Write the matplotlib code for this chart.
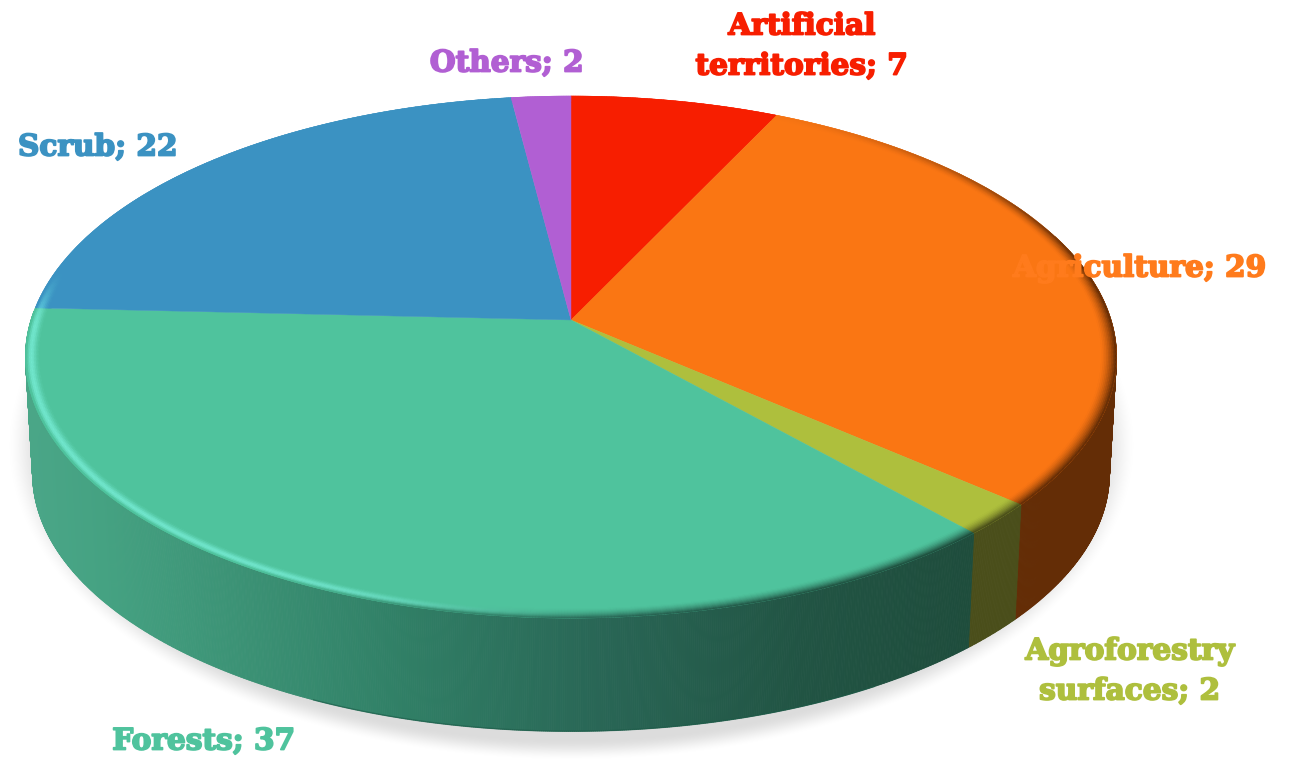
import numpy as np
import matplotlib
matplotlib.use("Agg")
import matplotlib.pyplot as plt
from matplotlib.collections import PolyCollection
from matplotlib.colors import to_rgb
import matplotlib.patheffects as pe

categories = ["Artificial\nterritories", "Agriculture", "Agroforestry\nsurfaces", "Forests", "Scrub", "Others"]
values = [7, 29, 2, 37, 22, 2]
face_colors = ["#F71E00", "#FA7613", "#AEBF3D", "#4FC39D", "#3B92C2", "#B15FD3"]
wall_colors = ["#7A1000", "#642D06", "#4A4E1A", "#1E4D3D", "#1D4D66", "#5A2F6A"]
label_colors = ["#F71E00", "#FF7B1C", "#AEBF3D", "#4FC39D", "#3B92C2", "#B15FD3"]
label_xy = [(802, 46), (1140, 268), (1130, 671), (204, 741), (98, 147), (507, 63)]

CX, CY, A, B, K = 571.0, 320.0, 540.0, 255.8, 0.142
CY2, SC = 437.0, 0.987


def project(theta, r=1.0):
    u, v = r * np.sin(theta), r * np.cos(theta)
    s = 1.0 / (1.0 + K * v)
    return A * u * s, -B * v * s


def top(theta, r=1.0):
    dx, dy = project(theta, r)
    return CX + dx, CY + dy


def bottom(theta):
    dx, dy = project(theta)
    return CX + SC * dx, CY2 + SC * dy


def smooth(a, b, x):
    t = np.clip((x - a) / (b - a), 0, 1)
    return t * t * (3 - 2 * t)


fig = plt.figure(figsize=(12.96, 7.61), dpi=100)
ax = fig.add_axes([0, 0, 1, 1])

# soft ground shadow
yy, xx = np.mgrid[0:761, 0:1296]
rr = np.sqrt(((xx - 571) / 566.0) ** 2 + ((yy - 445) / 316.0) ** 2)
alpha = (1 - smooth(0.93, 1.0, rr)) * 0.14
sh = np.zeros((761, 1296, 4))
sh[..., 3] = alpha
ax.imshow(sh, extent=(0, 1296, 761, 0), zorder=0, aspect="auto", interpolation="bilinear")
ax.set_xlim(0, 1296)
ax.set_ylim(761, 0)
ax.axis("off")

bounds = np.cumsum([0] + values) / float(sum(values)) * 2 * np.pi

forest_x = [30, 100, 400, 600, 800, 975]
forest_r = [0.29, 0.27, 0.19, 0.16, 0.13, 0.118]
forest_g = [0.65, 0.635, 0.50, 0.40, 0.33, 0.30]
forest_b = [0.53, 0.51, 0.40, 0.335, 0.265, 0.235]


def wall_rgb(i, x):
    if i == 3:
        return (np.interp(x, forest_x, forest_r), np.interp(x, forest_x, forest_g), np.interp(x, forest_x, forest_b))
    return to_rgb(wall_colors[i])


# side walls (only the slices on the near side of the disc)
for i in range(len(values)):
    t0, t1 = bounds[i], bounds[i + 1]
    lo, hi = max(t0, np.radians(70)), min(t1, np.radians(272))
    if hi <= lo:
        continue
    th = np.linspace(lo, hi, max(int((hi - lo) * 300), 2) + 1)
    xt, yt = top(th)
    xb, yb = bottom(th)
    quads, cols = [], []
    for j in range(len(th) - 1):
        quads.append([(xt[j], yt[j]), (xt[j + 1], yt[j + 1]), (xb[j + 1], yb[j + 1]), (xb[j], yb[j])])
        cols.append(wall_rgb(i, 0.5 * (xt[j] + xt[j + 1])))
    ax.add_collection(PolyCollection(quads, facecolors=cols, edgecolors=cols, linewidths=0.6, zorder=1))
    if i == 3:
        keep = (th > np.radians(150)) & (th < np.radians(205))
        ax.plot(xb[keep], yb[keep], color="#1B5A47", lw=1.0, alpha=0.6, zorder=1.1)

# top faces
for i in range(len(values)):
    th = np.linspace(bounds[i], bounds[i + 1], 200)
    xr, yr = top(th)
    ax.fill(np.r_[CX, xr], np.r_[CY, yr], facecolor=face_colors[i], edgecolor=face_colors[i], lw=0.3, zorder=2)

# bevel around the rim
radii = np.linspace(0.97, 1.0, 11)
for i in range(len(values)):
    th = np.linspace(bounds[i], bounds[i + 1], max(int((bounds[i + 1] - bounds[i]) * 200), 2) + 1)
    fc = np.array(to_rgb(face_colors[i]))
    light = fc + (1 - fc) * np.array([0.2, 0.6, 0.5])
    quads, cols = [], []
    for j in range(len(th) - 1):
        tm = np.degrees(0.5 * (th[j] + th[j + 1]))
        H = smooth(176, 205, tm) * (1 - smooth(268, 282, tm))
        D = smooth(20, 85, tm) * (1 - smooth(170, 200, tm))
        outer = smooth(150, 180, tm) * (1 - smooth(190, 215, tm))
        for k in range(len(radii) - 1):
            f = k / (len(radii) - 2)
            r0, r1 = radii[k], radii[k + 1]
            x0, y0 = top(th[j], r0)
            x1, y1 = top(th[j + 1], r0)
            x2, y2 = top(th[j + 1], r1)
            x3, y3 = top(th[j], r1)
            mx = 0.25 * (x0 + x1 + x2 + x3)
            wc = np.array(wall_rgb(i, mx))
            c = fc.copy()
            c = c + (light - c) * H * np.sin(np.pi * min(f ** 1.8, 1)) ** 1.3
            c = c + (wc - c) * (D * f ** 1.6 + (1 - D) * f ** 4 * outer * 0.7)
            quads.append([(x0, y0), (x1, y1), (x2, y2), (x3, y3)])
            cols.append(tuple(np.clip(c, 0, 1)))
    ax.add_collection(PolyCollection(quads, facecolors=cols, edgecolors=cols, linewidths=0.3, zorder=3))

# labels
for name, val, col, (lx, ly) in zip(categories, values, label_colors, label_xy):
    ax.text(lx, ly, f"{name}; {val}", color=col, ha="center", va="center", ma="center",
            fontfamily="DejaVu Serif", fontweight="bold", fontsize=21.3, linespacing=1.48,
            zorder=5, path_effects=[pe.withStroke(linewidth=1.3, foreground=col)])

fig.savefig("out.png", dpi=100, facecolor="white")
